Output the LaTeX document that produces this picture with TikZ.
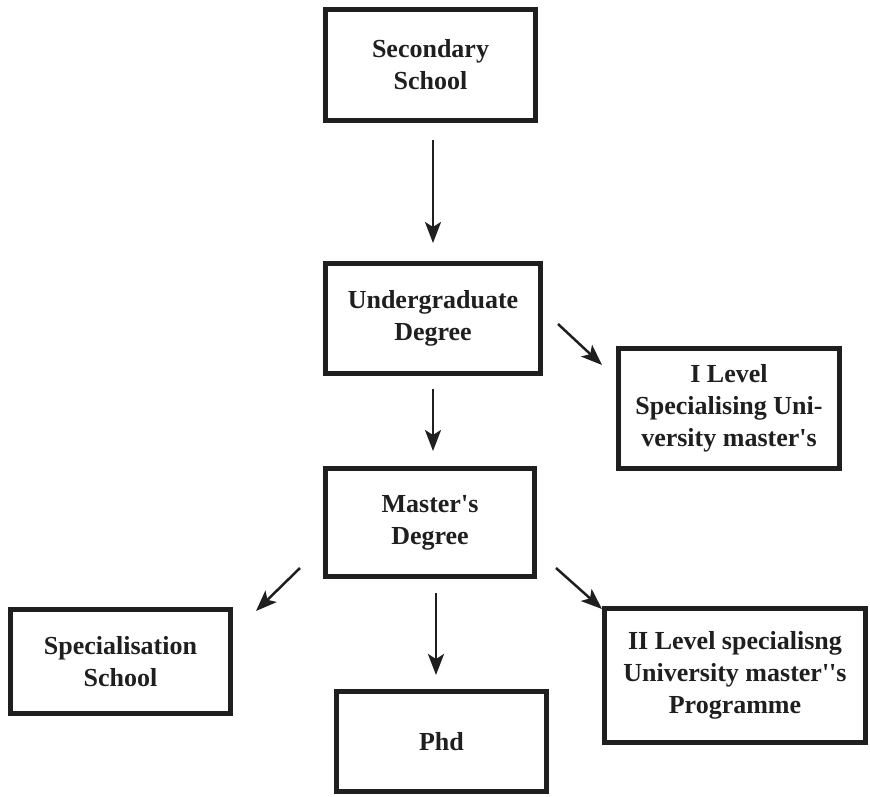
\documentclass[tikz,border=0pt]{standalone}
\usepackage{fontspec}
\setmainfont{Liberation Serif}[Ligatures=TeXOff]
\usetikzlibrary{arrows.meta}
\begin{document}
\begin{tikzpicture}[x=1pt,y=-1pt,
  box/.style={draw=black!88, line width=5pt, rectangle, inner sep=0pt,
    align=center, text=black!88,
    font=\fontsize{26}{32}\selectfont\bfseries},
  arr/.style={draw=black!88, line width=2.5pt,
    -{Stealth[length=21pt,width=16pt,inset=5pt]}}]
\useasboundingbox (0,0) rectangle (870,796);
\fill[white] (0,0) rectangle (870,796);
\node[box, minimum width=210pt, minimum height=111pt] (sec) at (430.5,65) {Secondary\\School};
\node[box, minimum width=215pt, minimum height=110pt] (ug) at (433,318.5) {Undergraduate\\Degree};
\node[box, minimum width=221pt, minimum height=120pt] (il) at (729,408.5) {I Level\\Specialising Uni-\\versity master's};
\node[box, minimum width=209pt, minimum height=108pt] (ms) at (430,522.5) {Master's\\Degree};
\node[box, minimum width=220pt, minimum height=104pt] (ss) at (120.5,661.5) {Specialisation\\School};
\node[box, minimum width=210pt, minimum height=100pt] (phd) at (441.5,741.5) {Phd};
\node[box, minimum width=261pt, minimum height=134pt] (iil) at (735,675.5) {II Level specialisng\\University master''s\\Programme};
\coordinate (a1s) at (433,140);
\coordinate (a1e) at (433,243);
\coordinate (a2s) at (433,389);
\coordinate (a2e) at (433,451);
\coordinate (a3s) at (558,324);
\coordinate (a3e) at (602,365);
\coordinate (a4s) at (300,568);
\coordinate (a4e) at (256,611);
\coordinate (a5s) at (436,593);
\coordinate (a5e) at (436,675);
\coordinate (a6s) at (556,568);
\coordinate (a6e) at (602,609);
\draw[arr] (a1s) -- (a1e);
\draw[arr] (a2s) -- (a2e);
\draw[arr] (a3s) -- (a3e);
\draw[arr] (a4s) -- (a4e);
\draw[arr] (a5s) -- (a5e);
\draw[arr] (a6s) -- (a6e);
\end{tikzpicture}
\end{document}
